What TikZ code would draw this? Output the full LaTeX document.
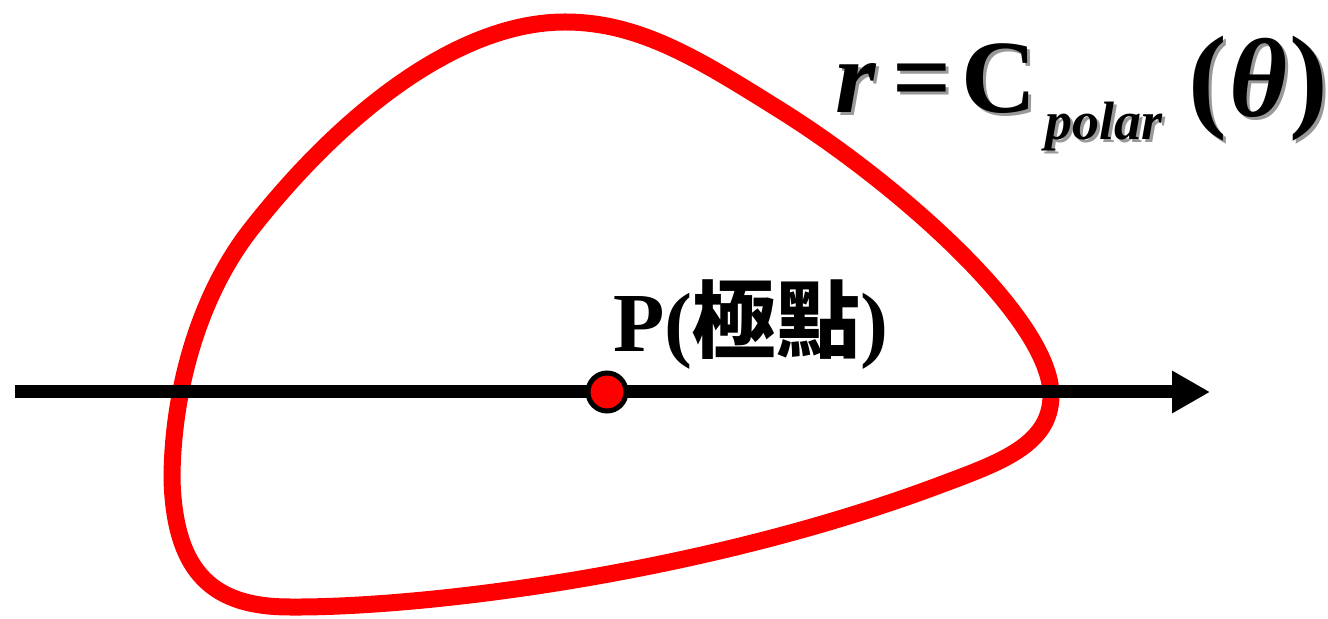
\documentclass[tikz,border=0pt]{standalone}
\usepackage{fontspec}
\setmainfont{Liberation Serif}
\newfontfamily\cjk{Noto Sans CJK TC}
\usepackage{xcolor}
\definecolor{shadowgrey}{gray}{0.6}
\usetikzlibrary{arrows.meta,positioning}

% text with a grey drop shadow
\newcommand\shadowed[1]{\makebox[0pt][l]{\kern1.5pt\raisebox{-1.5pt}{\color{shadowgrey}#1}}#1}

\begin{document}
\begin{tikzpicture}[
    x=0.5pt, y=-0.5pt,
    curve/.style={draw=red, line width=8.5pt, line join=round},
    axis/.style={draw, line width=6.5pt, -{Triangle[length=19pt,width=20pt]}},
    pole/.style={circle, draw, fill=red, line width=2.5pt, minimum size=19pt, inner sep=0pt},
    tag/.style={font=\fontsize{42}{42}\selectfont\bfseries, inner sep=0pt, anchor=base west},
    formula/.style={font=\fontsize{52}{52}\selectfont\bfseries, inner sep=0pt, anchor=base west}
  ]
    \useasboundingbox (0,0) rectangle (1328,619);

    % Closed curve r = C(theta)
    \draw [curve] (565,22) .. controls (640,22) and (700,60) .. (780,110)
      .. controls (900,185) and (1051,320) .. (1051,395)
      .. controls (1051,445) and (1000,462.5) .. (940,485)
      .. controls (700,575) and (420,608) .. (290,607)
      .. controls (215,607) and (175,575) .. (172,480)
      .. controls (172,400) and (195,300) .. (252,228)
      .. controls (345,110) and (460,22) .. (565,22) -- cycle;

    % Polar axis
    \coordinate (axisstart) at (15,392);
    \coordinate (axisend) at (1210,392);
    \path [axis] (axisstart) -- (axisend);

    % Pole and its label
    \node [pole] (pole) at (607,392) {};
    \node [tag] (poletag) at (613,352) {P({\cjk 極點})};

    % Formula
    \node [formula] (eqlhs) at (835,113) {\shadowed{\textit{r}\hspace{8pt}=\hspace{5pt}C}};
    \node [formula, font=\fontsize{27}{27}\selectfont\bfseries\itshape] (eqsub) at (1045,140) {\shadowed{polar}};
    \node [formula, font=\fontsize{58}{58}\selectfont\bfseries] (eqarg) at (1188,117)
      {\shadowed{(\kern1pt{\fontsize{56}{56}\selectfont\itshape θ}\kern1pt)}};

\end{tikzpicture}
\end{document}
